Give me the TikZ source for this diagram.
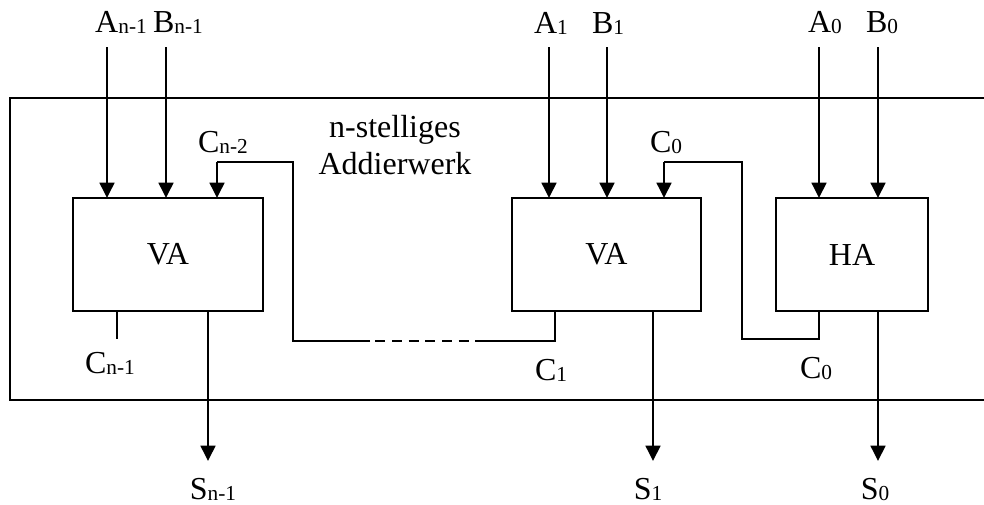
\documentclass[tikz,border=0pt]{standalone}
\usepackage{fontspec}
\setmainfont{Liberation Serif}
\usetikzlibrary{arrows.meta}
\newcommand\lab[2]{#1\raisebox{-1pt}{\fontsize{16}{16}\selectfont #2}}
\tikzset{
  txt/.style={anchor=base, inner sep=0pt, font=\fontsize{24}{27.75}\selectfont},
  blk/.style={draw, line width=1.3pt, inner sep=0pt, outer sep=0pt, font=\fontsize{24}{26}\selectfont},
  arr/.style={line width=1.9pt, -{Triangle[width=11pt,length=11.5pt]}},
  wire/.style={line width=1pt},
  frame/.style={line width=1.3pt}
}
\begin{document}
\begin{tikzpicture}[x=0.75pt,y=-0.75pt]
\useasboundingbox (0,0) rectangle (984,504);
% outer frame (right side beyond the picture)
\draw[frame] (984,98) -- (10,98) -- (10,400) -- (984,400);
% blocks
\node[blk, minimum width=142.5pt, minimum height=84.75pt] (va1) at (168,254.5) {VA};
\node[blk, minimum width=141.75pt, minimum height=84.75pt] (va2) at (606.5,254.5) {VA};
\node[blk, minimum width=114pt, minimum height=84.75pt] (ha) at (852,254.5) {HA};
% input labels
\node[txt] (lan1) at (121,32) {\lab{A}{n-1}};
\node[txt] (lbn1) at (178,32) {\lab{B}{n-1}};
\node[txt] (la1) at (551,33) {\lab{A}{1}};
\node[txt] (lb1) at (608,33) {\lab{B}{1}};
\node[txt] (la0) at (825,32) {\lab{A}{0}};
\node[txt] (lb0) at (882,32) {\lab{B}{0}};
% input arrow starts
\coordinate (an1) at (107,47);
\coordinate (bn1) at (166,47);
\coordinate (a1) at (549,47);
\coordinate (b1) at (607,47);
\coordinate (a0) at (819,47);
\coordinate (b0) at (878,47);
\draw[arr] (an1) -- (an1 |- va1.north);
\draw[arr] (bn1) -- (bn1 |- va1.north);
\draw[arr] (a1) -- (a1 |- va2.north);
\draw[arr] (b1) -- (b1 |- va2.north);
\draw[arr] (a0) -- (a0 |- ha.north);
\draw[arr] (b0) -- (b0 |- ha.north);
% outputs
\coordinate (sn1) at (208,461);
\coordinate (s1) at (653,461);
\coordinate (s0) at (878,461);
\draw[arr] (sn1 |- va1.south) -- (sn1);
\draw[arr] (s1 |- va2.south) -- (s1);
\draw[arr] (s0 |- ha.south) -- (s0);
\node[txt] (lsn1) at (213,499) {\lab{S}{n-1}};
\node[txt] (ls1) at (648,499) {\lab{S}{1}};
\node[txt] (ls0) at (875,499) {\lab{S}{0}};
% carry n-1 stub
\coordinate (cn1) at (117,339);
\draw[wire] (cn1 |- va1.south) -- (cn1);
\node[txt] (lcn1) at (110,373) {\lab{C}{n-1}};
% carry into VA n-1 from dashed chain
\coordinate (k1) at (293,162);
\coordinate (k2) at (293,341);
\coordinate (k3) at (370,341);
\coordinate (k4) at (478,341);
\coordinate (k5) at (555,341);
\coordinate (cin1) at (217,162);
\draw[wire] (k3) -- (k2) -- (k1) -- (cin1);
\draw[arr] (cin1) -- (cin1 |- va1.north);
\draw[wire, dash pattern=on 7.5pt off 5pt, dash phase=-4pt] (k3) -- (k4);
\draw[wire] (k4) -- (k5) -- (k5 |- va2.south);
\node[txt] (lcn2) at (223,152) {\lab{C}{n-2}};
\node[txt] (lc1) at (551,380) {\lab{C}{1}};
% carry from HA to VA1
\coordinate (m1) at (742,162);
\coordinate (m2) at (742,339);
\coordinate (m3) at (819,339);
\coordinate (cin2) at (664,162);
\draw[wire] (m3 |- ha.south) -- (m3) -- (m2) -- (m1) -- (cin2);
\draw[arr] (cin2) -- (cin2 |- va2.north);
\node[txt] (lc0t) at (666,152) {\lab{C}{0}};
\node[txt] (lc0b) at (816,378) {\lab{C}{0}};
% title
\node[txt, align=center, anchor=base] (title) at (395,174) {n-stelliges\\Addierwerk};
\end{tikzpicture}
\end{document}
